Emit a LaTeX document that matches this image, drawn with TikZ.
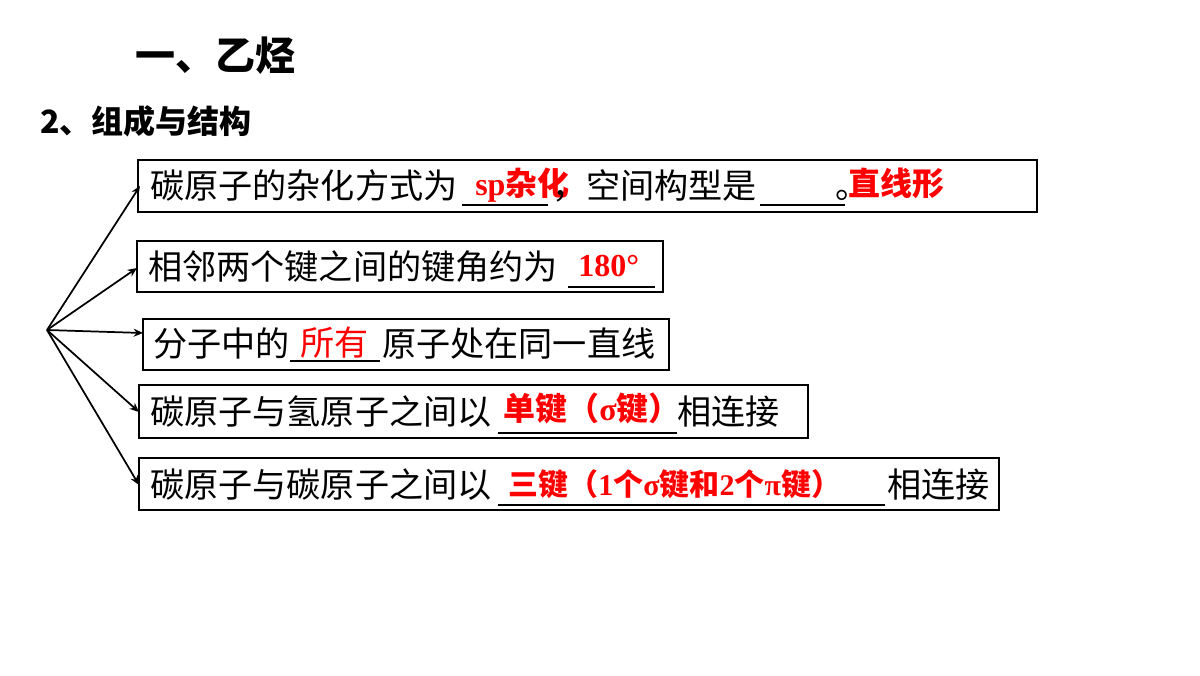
\documentclass[tikz,border=0pt]{standalone}
\usepackage{fontspec}
\usetikzlibrary{arrows.meta}
\setmainfont{Noto Sans CJK SC}
\newfontfamily\serifb{Liberation Serif}
\begin{document}
\begin{tikzpicture}[x=0.75pt,y=-0.75pt,
  box/.style={draw,line width=1.5pt},
  txt/.style={anchor=base west,inner sep=0,font=\fontsize{25.6}{28}\selectfont},
  red/.style={txt,text=red,font=\fontsize{24}{28}\selectfont\bfseries},
  ul/.style={line width=1pt},
  arr/.style={->,line width=1.3pt,>={Stealth[length=7pt,width=6pt]}}]
\useasboundingbox[fill=white] (0,0) rectangle (1200,675);
\node[anchor=base west,inner sep=0,font=\fontsize{30}{34}\selectfont\bfseries] (t1) at (135,70) {一、乙烃};
\node[anchor=base west,inner sep=0,font=\fontsize{24}{28}\selectfont\bfseries] (t2) at (40,133) {2、组成与结构};
\draw[box] (138,160) rectangle (1037,212);
\draw[box] (137,241) rectangle (663,292);
\draw[box] (143,319) rectangle (669,370);
\draw[box] (139,385) rectangle (808,438);
\draw[box] (139,458) rectangle (999,510);
\coordinate (o) at (47,330);
\coordinate (b1) at (140,186);
\coordinate (b2) at (137,268);
\coordinate (b3) at (143,333);
\coordinate (b4) at (139,412);
\coordinate (b5) at (139,485);
\foreach \b in {b1,b2,b3,b4,b5} \draw[arr] (o) -- (\b);
% box 1
\node[txt] (a1) at (150,198) {碳原子的杂化方式为};
\draw[ul] (462,205) -- (548,205);
\node[red] (a2) at (475,195) {{\serifb sp}杂化};
\node[txt] (a3) at (552,198) {，空间构型是};
\draw[ul] (760,205) -- (845,205);
\node[txt] (a4) at (835,198) {。};
\node[red] (a5) at (848,195) {直线形};
% box 2
\node[txt] (c1) at (148,279) {相邻两个键之间的键角约为};
\draw[ul] (568,287) -- (655,287);
\node[txt,text=red,font=\fontsize{24}{28}\serifb\bfseries] (c2) at (578,276) {180°};
% box 3
\node[txt] (d1) at (153,356) {分子中的};
\draw[ul] (290,361) -- (380,361);
\node[txt,text=red] (d2) at (300,355) {所有};
\node[txt] (d3) at (382,356) {原子处在同一直线};
% box 4
\node[txt] (e1) at (150,424) {碳原子与氢原子之间以};
\draw[ul] (498,433) -- (677,433);
\node[red] (e2) at (503,420) {单键（{\serifb σ}键）};
\node[txt] (e3) at (677,424) {相连接};
% box 5
\node[txt] (f1) at (150,497) {碳原子与碳原子之间以};
\draw[ul] (498,505) -- (885,505);
\node[red,font=\fontsize{22.5}{26}\selectfont\bfseries] (f2) at (508,495) {三键（{\serifb 1}个{\serifb σ}键和{\serifb 2}个{\serifb π}键）};
\node[txt] (f3) at (887,497) {相连接};
\end{tikzpicture}
\end{document}
